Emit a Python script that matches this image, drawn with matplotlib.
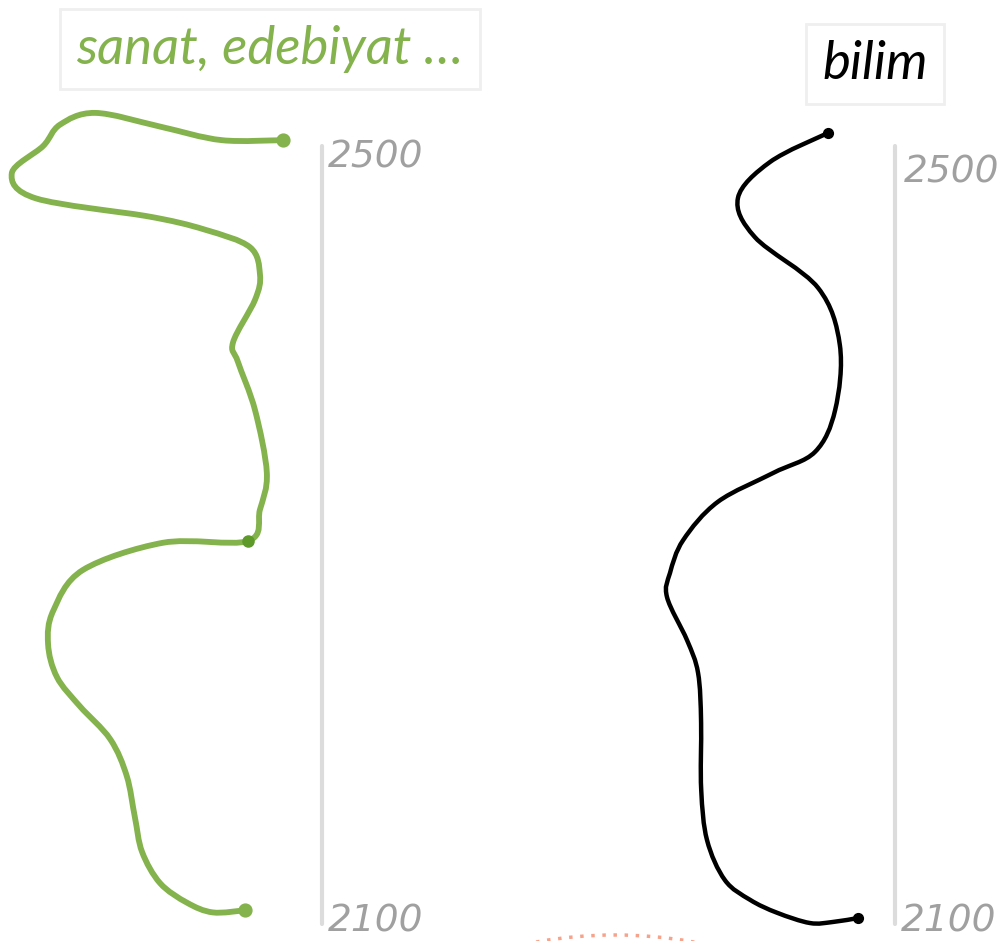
import numpy as np
import matplotlib
matplotlib.use("Agg")
import matplotlib.pyplot as plt
from matplotlib.path import Path
from matplotlib.patches import PathPatch, Arc

# years run along the vertical axis, value along the horizontal (0-100)
years_range = [2100, 2500]

art_label = "sanat, edebiyat …"
art_value = [87.9, 68.9, 49.7, 29.5, 18.6, 13.4, 3.7, 11.2, 45.3, 63.7, 77.6,
             80.7, 79.2, 72.4, 73.9, 79.2, 82.9, 80.7, 77.0, 50.6, 25.8, 16.5,
             14.9, 17.7, 24.8, 34.2, 39.4, 41.9, 44.1, 49.7, 58.1, 66.1, 76.1]
art_year = [2503, 2503, 2510, 2517, 2511, 2500, 2486, 2473, 2464, 2457, 2448,
            2434, 2421, 2399, 2389, 2364, 2332, 2313, 2297, 2296, 2282, 2261,
            2244, 2227, 2212, 2195, 2176, 2155, 2137, 2121, 2111, 2106, 2107]

sci_label = "bilim"
sci_value = [79.2, 61.2, 51.2, 56.5, 76.1, 82.9, 81.4, 75.2, 62.1, 45.0, 34.2,
             30.1, 29.2, 35.4, 38.8, 39.8, 39.8, 41.6, 47.2, 55.0, 63.4, 73.6,
             80.7, 88.5]
sci_year = [2506.7, 2491.8, 2473.3, 2453.2, 2427.0, 2397.7, 2364.3, 2342.7,
            2331.9, 2317.0, 2297.4, 2280.5, 2268.1, 2246.0, 2229.1, 2203.4,
            2168.9, 2143.2, 2122.6, 2112.4, 2105.7, 2100.5, 2101.1, 2103.1]

GREEN = "#84b24d"
AXIS_GREY = "#dcdcdc"
LABEL_GREY = "#a0a0a0"

W, H = 1002, 941


def smooth_path(xs, ys):
    """Catmull-Rom curve through the points, as cubic Bezier segments."""
    pts = np.column_stack([xs, ys]).astype(float)
    p = np.vstack([pts[0], pts, pts[-1]])
    verts, codes = [pts[0]], [Path.MOVETO]
    for i in range(1, len(p) - 2):
        p0, p1, p2, p3 = p[i - 1], p[i], p[i + 1], p[i + 2]
        verts += [p1 + (p2 - p0) / 6, p2 - (p3 - p1) / 6, p2]
        codes += [Path.CURVE4] * 3
    return Path(verts, codes)


def draw_panel(ax, xs, ys, color, lw, top_off):
    ax.set_xlim(0, 100)
    ax.set_ylim(*years_range)
    ax.axis("off")

    # value axis
    ax.plot([100, 100], years_range, color=AXIS_GREY, lw=3,
            solid_capstyle="round", clip_on=False)
    lab = dict(textcoords="offset pixels", ha="left", va="center", fontsize=27,
               style="italic", color=LABEL_GREY, family="DejaVu Sans",
               annotation_clip=False)
    ax.annotate("2500", (100, 2500), xytext=top_off, **lab)
    ax.annotate("2100", (100, 2100), xytext=(6, 3), **lab)

    patch = PathPatch(smooth_path(xs, ys), fill=False, edgecolor=color, lw=lw,
                      capstyle="round", joinstyle="round", clip_on=False)
    patch.set_sketch_params(scale=0.12, length=150, randomness=3)
    ax.add_patch(patch)
    ax.plot([xs[0], xs[-1]], [ys[0], ys[-1]], "o", color=color, ms=lw * 2.2,
            clip_on=False)


fig = plt.figure(figsize=(W / 100, H / 100), dpi=100)
bottom = 1 - 924 / H
height = (924 - 146) / H

ax1 = fig.add_axes([0, bottom, 322 / W, height])
draw_panel(ax1, art_value, art_year, GREEN, 4.2, (6, -12))
ax1.plot(art_value[18], art_year[18], "o", color="#5e9a2a", ms=8, clip_on=False)

ax2 = fig.add_axes([573 / W, bottom, 322 / W, height])
draw_panel(ax2, sci_value, sci_year, "black", 3.2, (9, -27))

# titles in boxes
box = dict(boxstyle="square,pad=0.3", facecolor="white", edgecolor="#efefef", lw=2)
fig.text(270 / W, 1 - 49 / H, art_label, ha="center", va="center", fontsize=38,
         style="italic", color=GREEN, family="Lato", bbox=box)
fig.text(875 / W, 1 - 64 / H, sci_label, ha="center", va="center", fontsize=38,
         style="italic", color="black", family="Lato", bbox=box)

# edge of another chart peeking in at the bottom
over = fig.add_axes([0, 0, 1, 1], zorder=-1)
over.set_xlim(0, W)
over.set_ylim(H, 0)
over.axis("off")
over.add_patch(Arc((615, 1385), 900, 900, theta1=250, theta2=290,
                   color="#f7a38b", lw=2.5, ls=(0, (1, 2.2))))

fig.savefig("out.png", dpi=100, facecolor="white")
